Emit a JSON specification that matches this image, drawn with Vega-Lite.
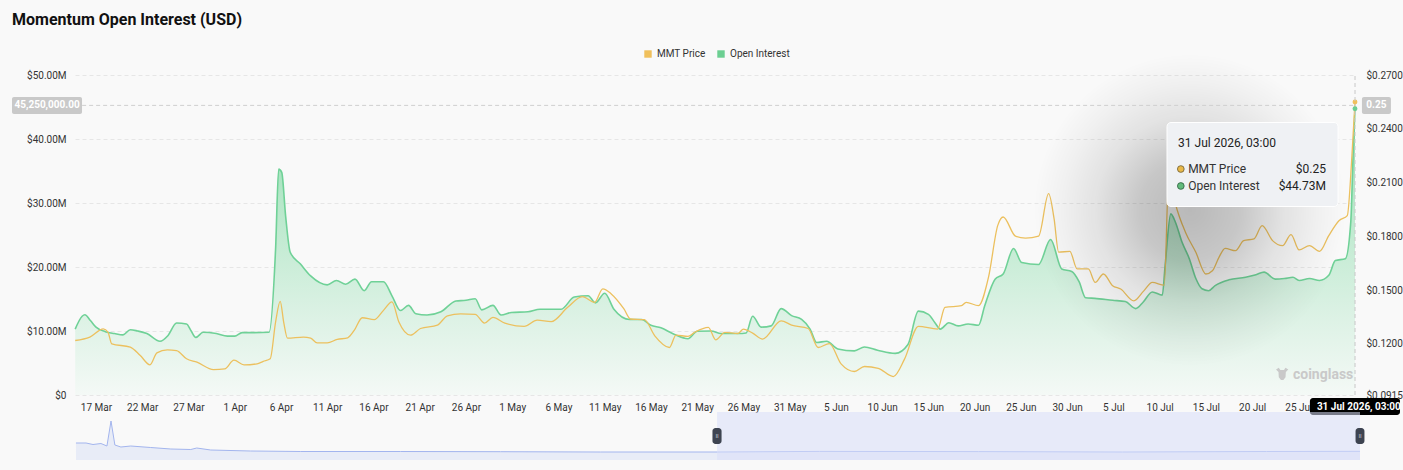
{
  "$schema": "https://vega.github.io/schema/vega-lite/v6.json",
  "width": 1280,
  "height": 320,
  "autosize": "none",
  "padding": {"left": 75, "top": 75, "right": 48, "bottom": 75},
  "background": "#f9f9f9",
  "title": {"text": "Momentum Open Interest (USD)", "anchor": "start", "frame": "group", "dx": -63, "offset": 12, "fontSize": 16, "fontWeight": "bold", "color": "#111111", "font": "Roboto"},
  "datasets": {
    "oi": [
      {"t": "2026-03-14T18:00", "oi": 10300000},
      {"t": "2026-03-15T12:00", "oi": 12300000},
      {"t": "2026-03-15T19:00", "oi": 12550000},
      {"t": "2026-03-16T10:00", "oi": 11600000},
      {"t": "2026-03-17T00:00", "oi": 10600000},
      {"t": "2026-03-18T00:00", "oi": 9900000},
      {"t": "2026-03-19T00:00", "oi": 9600000},
      {"t": "2026-03-19T22:00", "oi": 9400000},
      {"t": "2026-03-20T17:00", "oi": 10200000},
      {"t": "2026-03-21T12:00", "oi": 10000000},
      {"t": "2026-03-22T12:00", "oi": 9600000},
      {"t": "2026-03-23T22:00", "oi": 8400000},
      {"t": "2026-03-24T19:00", "oi": 9300000},
      {"t": "2026-03-25T17:00", "oi": 11250000},
      {"t": "2026-03-26T19:00", "oi": 11100000},
      {"t": "2026-03-27T07:00", "oi": 10000000},
      {"t": "2026-03-27T19:00", "oi": 9000000},
      {"t": "2026-03-28T14:00", "oi": 9800000},
      {"t": "2026-03-30T00:00", "oi": 9600000},
      {"t": "2026-03-31T05:00", "oi": 9200000},
      {"t": "2026-04-01T00:00", "oi": 9200000},
      {"t": "2026-04-01T19:00", "oi": 9740000},
      {"t": "2026-04-03T00:00", "oi": 9740000},
      {"t": "2026-04-04T17:00", "oi": 9800000},
      {"t": "2026-04-05T10:00", "oi": 22800000},
      {"t": "2026-04-05T18:00", "oi": 35300000},
      {"t": "2026-04-06T02:00", "oi": 34800000},
      {"t": "2026-04-06T12:00", "oi": 28000000},
      {"t": "2026-04-07T00:00", "oi": 22300000},
      {"t": "2026-04-08T02:00", "oi": 20500000},
      {"t": "2026-04-09T05:00", "oi": 18600000},
      {"t": "2026-04-11T00:00", "oi": 17200000},
      {"t": "2026-04-12T00:00", "oi": 17900000},
      {"t": "2026-04-13T00:00", "oi": 17300000},
      {"t": "2026-04-14T00:00", "oi": 18100000},
      {"t": "2026-04-15T00:00", "oi": 16300000},
      {"t": "2026-04-15T19:00", "oi": 17700000},
      {"t": "2026-04-17T02:00", "oi": 17700000},
      {"t": "2026-04-18T00:00", "oi": 15500000},
      {"t": "2026-04-18T22:00", "oi": 13200000},
      {"t": "2026-04-19T19:00", "oi": 14000000},
      {"t": "2026-04-20T14:00", "oi": 12700000},
      {"t": "2026-04-21T19:00", "oi": 12500000},
      {"t": "2026-04-23T07:00", "oi": 13000000},
      {"t": "2026-04-24T22:00", "oi": 14700000},
      {"t": "2026-04-26T00:00", "oi": 14800000},
      {"t": "2026-04-27T00:00", "oi": 15050000},
      {"t": "2026-04-27T17:00", "oi": 13300000},
      {"t": "2026-04-28T22:00", "oi": 14000000},
      {"t": "2026-04-29T19:00", "oi": 12500000},
      {"t": "2026-04-30T22:00", "oi": 12900000},
      {"t": "2026-05-02T17:00", "oi": 13000000},
      {"t": "2026-05-04T00:00", "oi": 13400000},
      {"t": "2026-05-06T07:00", "oi": 13400000},
      {"t": "2026-05-07T17:00", "oi": 15300000},
      {"t": "2026-05-09T05:00", "oi": 15500000},
      {"t": "2026-05-10T00:00", "oi": 14400000},
      {"t": "2026-05-11T00:00", "oi": 15900000},
      {"t": "2026-05-12T00:00", "oi": 13400000},
      {"t": "2026-05-13T17:00", "oi": 11800000},
      {"t": "2026-05-15T00:00", "oi": 11800000},
      {"t": "2026-05-16T00:00", "oi": 10900000},
      {"t": "2026-05-17T02:00", "oi": 10500000},
      {"t": "2026-05-18T12:00", "oi": 9500000},
      {"t": "2026-05-20T00:00", "oi": 8800000},
      {"t": "2026-05-21T00:00", "oi": 9950000},
      {"t": "2026-05-22T12:00", "oi": 10000000},
      {"t": "2026-05-23T14:00", "oi": 9600000},
      {"t": "2026-05-25T10:00", "oi": 9600000},
      {"t": "2026-05-26T07:00", "oi": 9700000},
      {"t": "2026-05-27T00:00", "oi": 12300000},
      {"t": "2026-05-27T22:00", "oi": 10600000},
      {"t": "2026-05-29T00:00", "oi": 10800000},
      {"t": "2026-05-30T02:00", "oi": 13500000},
      {"t": "2026-05-31T05:00", "oi": 12400000},
      {"t": "2026-06-01T07:00", "oi": 11800000},
      {"t": "2026-06-02T05:00", "oi": 10300000},
      {"t": "2026-06-02T22:00", "oi": 8200000},
      {"t": "2026-06-04T00:00", "oi": 8400000},
      {"t": "2026-06-05T05:00", "oi": 7200000},
      {"t": "2026-06-07T00:00", "oi": 6900000},
      {"t": "2026-06-08T02:00", "oi": 7500000},
      {"t": "2026-06-09T12:00", "oi": 7000000},
      {"t": "2026-06-11T10:00", "oi": 6500000},
      {"t": "2026-06-12T19:00", "oi": 7900000},
      {"t": "2026-06-13T22:00", "oi": 13100000},
      {"t": "2026-06-15T00:00", "oi": 12600000},
      {"t": "2026-06-15T17:00", "oi": 11300000},
      {"t": "2026-06-16T07:00", "oi": 10300000},
      {"t": "2026-06-17T05:00", "oi": 11300000},
      {"t": "2026-06-18T05:00", "oi": 10800000},
      {"t": "2026-06-19T07:00", "oi": 11100000},
      {"t": "2026-06-20T10:00", "oi": 10900000},
      {"t": "2026-06-21T02:00", "oi": 13900000},
      {"t": "2026-06-22T05:00", "oi": 18100000},
      {"t": "2026-06-23T02:00", "oi": 18900000},
      {"t": "2026-06-24T05:00", "oi": 22900000},
      {"t": "2026-06-25T02:00", "oi": 20700000},
      {"t": "2026-06-26T22:00", "oi": 20400000},
      {"t": "2026-06-28T05:00", "oi": 24300000},
      {"t": "2026-06-29T10:00", "oi": 19700000},
      {"t": "2026-06-30T12:00", "oi": 19300000},
      {"t": "2026-07-01T07:00", "oi": 17700000},
      {"t": "2026-07-02T00:00", "oi": 15200000},
      {"t": "2026-07-03T00:00", "oi": 15100000},
      {"t": "2026-07-04T22:00", "oi": 14800000},
      {"t": "2026-07-06T07:00", "oi": 14600000},
      {"t": "2026-07-07T10:00", "oi": 13500000},
      {"t": "2026-07-08T05:00", "oi": 14500000},
      {"t": "2026-07-09T05:00", "oi": 16100000},
      {"t": "2026-07-10T07:00", "oi": 15600000},
      {"t": "2026-07-10T14:00", "oi": 20000000},
      {"t": "2026-07-11T05:00", "oi": 28300000},
      {"t": "2026-07-11T17:00", "oi": 27000000},
      {"t": "2026-07-12T10:00", "oi": 23900000},
      {"t": "2026-07-13T05:00", "oi": 21300000},
      {"t": "2026-07-13T22:00", "oi": 18200000},
      {"t": "2026-07-14T14:00", "oi": 16600000},
      {"t": "2026-07-15T07:00", "oi": 16300000},
      {"t": "2026-07-16T00:00", "oi": 17100000},
      {"t": "2026-07-17T12:00", "oi": 18000000},
      {"t": "2026-07-19T07:00", "oi": 18400000},
      {"t": "2026-07-20T10:00", "oi": 18800000},
      {"t": "2026-07-21T07:00", "oi": 19200000},
      {"t": "2026-07-22T12:00", "oi": 18100000},
      {"t": "2026-07-23T12:00", "oi": 18200000},
      {"t": "2026-07-24T10:00", "oi": 18400000},
      {"t": "2026-07-25T02:00", "oi": 17900000},
      {"t": "2026-07-26T05:00", "oi": 18200000},
      {"t": "2026-07-27T07:00", "oi": 17900000},
      {"t": "2026-07-28T07:00", "oi": 18700000},
      {"t": "2026-07-29T00:00", "oi": 21000000},
      {"t": "2026-07-30T02:00", "oi": 21300000},
      {"t": "2026-07-30T16:00", "oi": 27000000},
      {"t": "2026-07-30T22:00", "oi": 37400000},
      {"t": "2026-07-31T03:00", "oi": 44730000}
    ],
    "price": [
      {"t": "2026-03-14T18:00", "price": 0.1219},
      {"t": "2026-03-16T08:00", "price": 0.1238},
      {"t": "2026-03-17T19:00", "price": 0.1284},
      {"t": "2026-03-18T07:00", "price": 0.1266},
      {"t": "2026-03-18T17:00", "price": 0.1200},
      {"t": "2026-03-20T17:00", "price": 0.1182},
      {"t": "2026-03-21T19:00", "price": 0.1135},
      {"t": "2026-03-22T20:00", "price": 0.1083},
      {"t": "2026-03-23T14:00", "price": 0.1150},
      {"t": "2026-03-24T17:00", "price": 0.1167},
      {"t": "2026-03-25T17:00", "price": 0.1163},
      {"t": "2026-03-26T19:00", "price": 0.1117},
      {"t": "2026-03-27T22:00", "price": 0.1098},
      {"t": "2026-03-29T17:00", "price": 0.1057},
      {"t": "2026-03-30T22:00", "price": 0.1061},
      {"t": "2026-03-31T22:00", "price": 0.1109},
      {"t": "2026-04-02T00:00", "price": 0.1083},
      {"t": "2026-04-03T10:00", "price": 0.1089},
      {"t": "2026-04-04T02:00", "price": 0.1103},
      {"t": "2026-04-04T20:00", "price": 0.1117},
      {"t": "2026-04-05T10:00", "price": 0.1322},
      {"t": "2026-04-05T22:00", "price": 0.1437},
      {"t": "2026-04-06T07:00", "price": 0.1322},
      {"t": "2026-04-06T17:00", "price": 0.1232},
      {"t": "2026-04-08T10:00", "price": 0.1238},
      {"t": "2026-04-09T05:00", "price": 0.1232},
      {"t": "2026-04-09T22:00", "price": 0.1206},
      {"t": "2026-04-11T00:00", "price": 0.1206},
      {"t": "2026-04-12T02:00", "price": 0.1225},
      {"t": "2026-04-13T05:00", "price": 0.1234},
      {"t": "2026-04-13T22:00", "price": 0.1275},
      {"t": "2026-04-14T19:00", "price": 0.1346},
      {"t": "2026-04-16T02:00", "price": 0.1335},
      {"t": "2026-04-17T02:00", "price": 0.1387},
      {"t": "2026-04-18T00:00", "price": 0.1434},
      {"t": "2026-04-18T18:00", "price": 0.1322},
      {"t": "2026-04-20T00:00", "price": 0.1249},
      {"t": "2026-04-21T02:00", "price": 0.1286},
      {"t": "2026-04-22T22:00", "price": 0.1305},
      {"t": "2026-04-24T00:00", "price": 0.1357},
      {"t": "2026-04-25T10:00", "price": 0.1367},
      {"t": "2026-04-27T00:00", "price": 0.1365},
      {"t": "2026-04-28T00:00", "price": 0.1316},
      {"t": "2026-04-28T22:00", "price": 0.1348},
      {"t": "2026-04-30T05:00", "price": 0.1316},
      {"t": "2026-05-02T07:00", "price": 0.1298},
      {"t": "2026-05-03T17:00", "price": 0.1333},
      {"t": "2026-05-05T05:00", "price": 0.1324},
      {"t": "2026-05-07T00:00", "price": 0.1404},
      {"t": "2026-05-08T14:00", "price": 0.1464},
      {"t": "2026-05-09T22:00", "price": 0.1432},
      {"t": "2026-05-10T19:00", "price": 0.1507},
      {"t": "2026-05-11T17:00", "price": 0.1479},
      {"t": "2026-05-13T02:00", "price": 0.1395},
      {"t": "2026-05-13T19:00", "price": 0.1339},
      {"t": "2026-05-15T07:00", "price": 0.1335},
      {"t": "2026-05-16T10:00", "price": 0.1245},
      {"t": "2026-05-18T00:00", "price": 0.1180},
      {"t": "2026-05-18T17:00", "price": 0.1249},
      {"t": "2026-05-20T00:00", "price": 0.1242},
      {"t": "2026-05-20T17:00", "price": 0.1264},
      {"t": "2026-05-22T05:00", "price": 0.1292},
      {"t": "2026-05-23T00:00", "price": 0.1223},
      {"t": "2026-05-24T00:00", "price": 0.1264},
      {"t": "2026-05-25T10:00", "price": 0.1258},
      {"t": "2026-05-26T00:00", "price": 0.1283},
      {"t": "2026-05-27T00:00", "price": 0.1260},
      {"t": "2026-05-28T02:00", "price": 0.1227},
      {"t": "2026-05-30T02:00", "price": 0.1329},
      {"t": "2026-05-31T05:00", "price": 0.1305},
      {"t": "2026-06-02T00:00", "price": 0.1286},
      {"t": "2026-06-03T02:00", "price": 0.1180},
      {"t": "2026-06-04T07:00", "price": 0.1202},
      {"t": "2026-06-05T14:00", "price": 0.1087},
      {"t": "2026-06-07T00:00", "price": 0.1046},
      {"t": "2026-06-08T02:00", "price": 0.1074},
      {"t": "2026-06-09T14:00", "price": 0.1064},
      {"t": "2026-06-11T05:00", "price": 0.1018},
      {"t": "2026-06-12T10:00", "price": 0.1115},
      {"t": "2026-06-13T22:00", "price": 0.1298},
      {"t": "2026-06-16T00:00", "price": 0.1283},
      {"t": "2026-06-16T19:00", "price": 0.1404},
      {"t": "2026-06-18T14:00", "price": 0.1413},
      {"t": "2026-06-19T02:00", "price": 0.1432},
      {"t": "2026-06-20T10:00", "price": 0.1413},
      {"t": "2026-06-21T12:00", "price": 0.1572},
      {"t": "2026-06-22T12:00", "price": 0.1861},
      {"t": "2026-06-23T02:00", "price": 0.1908},
      {"t": "2026-06-24T10:00", "price": 0.1801},
      {"t": "2026-06-25T12:00", "price": 0.1790},
      {"t": "2026-06-26T22:00", "price": 0.1801},
      {"t": "2026-06-28T00:00", "price": 0.2038},
      {"t": "2026-06-28T14:00", "price": 0.1900},
      {"t": "2026-06-29T02:00", "price": 0.1712},
      {"t": "2026-06-30T07:00", "price": 0.1716},
      {"t": "2026-07-01T02:00", "price": 0.1618},
      {"t": "2026-07-02T07:00", "price": 0.1618},
      {"t": "2026-07-03T01:00", "price": 0.1543},
      {"t": "2026-07-03T22:00", "price": 0.1590},
      {"t": "2026-07-04T22:00", "price": 0.1525},
      {"t": "2026-07-05T19:00", "price": 0.1506},
      {"t": "2026-07-07T05:00", "price": 0.1440},
      {"t": "2026-07-08T07:00", "price": 0.1496},
      {"t": "2026-07-09T05:00", "price": 0.1543},
      {"t": "2026-07-10T12:00", "price": 0.1528},
      {"t": "2026-07-11T00:00", "price": 0.2150},
      {"t": "2026-07-11T17:00", "price": 0.1982},
      {"t": "2026-07-12T19:00", "price": 0.1823},
      {"t": "2026-07-13T22:00", "price": 0.1711},
      {"t": "2026-07-15T00:00", "price": 0.1590},
      {"t": "2026-07-15T17:00", "price": 0.1608},
      {"t": "2026-07-16T10:00", "price": 0.1683},
      {"t": "2026-07-17T02:00", "price": 0.1733},
      {"t": "2026-07-18T05:00", "price": 0.1720},
      {"t": "2026-07-19T02:00", "price": 0.1776},
      {"t": "2026-07-20T05:00", "price": 0.1786},
      {"t": "2026-07-21T02:00", "price": 0.1860},
      {"t": "2026-07-22T05:00", "price": 0.1776},
      {"t": "2026-07-23T07:00", "price": 0.1748},
      {"t": "2026-07-24T05:00", "price": 0.1810},
      {"t": "2026-07-25T02:00", "price": 0.1724},
      {"t": "2026-07-26T05:00", "price": 0.1748},
      {"t": "2026-07-27T07:00", "price": 0.1716},
      {"t": "2026-07-28T07:00", "price": 0.1804},
      {"t": "2026-07-29T10:00", "price": 0.1888},
      {"t": "2026-07-30T07:00", "price": 0.1916},
      {"t": "2026-07-30T19:00", "price": 0.2250},
      {"t": "2026-07-31T03:00", "price": 0.2549}
    ],
    "hover": [
      {"t": "2026-07-31T03:00", "price": 0.2549, "oi": 44730000}
    ],
    "overview": [
      {"t": "2025-10-27T18:00", "level": 17},
      {"t": "2025-10-29T22:00", "level": 17},
      {"t": "2025-10-31T10:00", "level": 15.5},
      {"t": "2025-11-02T03:00", "level": 16.5},
      {"t": "2025-11-03T10:00", "level": 14},
      {"t": "2025-11-04T07:00", "level": 39},
      {"t": "2025-11-05T03:00", "level": 15},
      {"t": "2025-11-06T10:00", "level": 13},
      {"t": "2025-11-08T13:00", "level": 14},
      {"t": "2025-11-12T20:00", "level": 12.5},
      {"t": "2025-11-17T04:00", "level": 11},
      {"t": "2025-11-21T11:00", "level": 10.5},
      {"t": "2025-11-22T18:00", "level": 12},
      {"t": "2025-11-25T18:00", "level": 10},
      {"t": "2025-12-04T08:00", "level": 9},
      {"t": "2025-12-15T03:00", "level": 8.5},
      {"t": "2026-01-05T15:00", "level": 8.5},
      {"t": "2026-01-27T03:00", "level": 8.3},
      {"t": "2026-02-17T15:00", "level": 8},
      {"t": "2026-03-14T18:00", "level": 8},
      {"t": "2026-04-05T18:00", "level": 8.6},
      {"t": "2026-05-10T00:00", "level": 8.4},
      {"t": "2026-06-10T00:00", "level": 8},
      {"t": "2026-07-11T00:00", "level": 8.5},
      {"t": "2026-07-31T03:00", "level": 8.7}
    ]
  },
  "layer": [
    {
      "resolve": {"scale": {"y": "independent"}},
      "layer": [
        {
          "data": {"name": "oi"},
          "layer": [
            {
              "mark": {"type": "area", "interpolate": "monotone", "color": {"gradient": "linear", "x1": 0, "y1": 0, "x2": 0, "y2": 1, "stops": [{"offset": 0, "color": "#86d9a8"}, {"offset": 0.3, "color": "#b4e7c8"}, {"offset": 0.7, "color": "#daf1e3"}, {"offset": 1, "color": "#f4f9f6"}]}},
              "encoding": {
                "x": {"field": "t", "type": "temporal", "title": null,
                  "scale": {"domain": [{"year": 2026, "month": 3, "date": 14, "hours": 17, "minutes": 30}, {"year": 2026, "month": 7, "date": 31, "hours": 3}], "nice": false},
                  "axis": {"format": "%-d %b", "labelPadding": 7, "labelFlush": false, "labelOverlap": false, "domain": false, "ticks": false, "grid": false,
                    "values": [
                      {"year": 2026, "month": 3, "date": 17}, {"year": 2026, "month": 3, "date": 22}, {"year": 2026, "month": 3, "date": 27},
                      {"year": 2026, "month": 4, "date": 1}, {"year": 2026, "month": 4, "date": 6}, {"year": 2026, "month": 4, "date": 11},
                      {"year": 2026, "month": 4, "date": 16}, {"year": 2026, "month": 4, "date": 21}, {"year": 2026, "month": 4, "date": 26},
                      {"year": 2026, "month": 5, "date": 1}, {"year": 2026, "month": 5, "date": 6}, {"year": 2026, "month": 5, "date": 11},
                      {"year": 2026, "month": 5, "date": 16}, {"year": 2026, "month": 5, "date": 21}, {"year": 2026, "month": 5, "date": 26},
                      {"year": 2026, "month": 5, "date": 31}, {"year": 2026, "month": 6, "date": 5}, {"year": 2026, "month": 6, "date": 10},
                      {"year": 2026, "month": 6, "date": 15}, {"year": 2026, "month": 6, "date": 20}, {"year": 2026, "month": 6, "date": 25},
                      {"year": 2026, "month": 6, "date": 30}, {"year": 2026, "month": 7, "date": 5}, {"year": 2026, "month": 7, "date": 10},
                      {"year": 2026, "month": 7, "date": 15}, {"year": 2026, "month": 7, "date": 20}, {"year": 2026, "month": 7, "date": 25}
                    ]}},
                "y": {"field": "oi", "type": "quantitative", "title": null,
                  "scale": {"domain": [0, 50000000], "nice": false},
                  "axis": {"orient": "left", "values": [0, 10000000, 20000000, 30000000, 40000000, 50000000],
                    "labelExpr": "datum.value == 0 ? '$0' : '$' + format(datum.value / 1000000, '.2f') + 'M'",
                    "labelPadding": 9, "domain": false, "ticks": false, "grid": true, "gridDash": [4, 3], "gridColor": "#e6e6e6"}}
              }
            },
            {
              "mark": {"type": "line", "interpolate": "monotone", "color": "#6fd197", "strokeWidth": 1.6},
              "encoding": {
                "x": {"field": "t", "type": "temporal", "title": null},
                "y": {"field": "oi", "type": "quantitative", "title": null}
              }
            }
          ]
        },
        {
          "layer": [
            {
              "data": {"name": "price"},
              "mark": {"type": "line", "interpolate": "monotone", "color": "#ecc05e", "strokeWidth": 1.3},
              "encoding": {
                "x": {"field": "t", "type": "temporal", "title": null},
                "y": {"field": "price", "type": "quantitative", "title": null,
                  "scale": {"domain": [0.0915, 0.27], "nice": false, "zero": false},
                  "axis": {"orient": "right", "values": [0.0915, 0.12, 0.15, 0.18, 0.21, 0.24, 0.27], "format": "$.4f", "labelPadding": 11, "domain": false, "ticks": false, "grid": false}}
              }
            },
            {
              "data": {"name": "hover"},
              "mark": {"type": "point", "filled": true, "size": 24, "opacity": 1},
              "encoding": {
                "x": {"field": "t", "type": "temporal", "title": null},
                "y": {"field": "price", "type": "quantitative", "title": null},
                "color": {"datum": "MMT Price", "type": "nominal",
                  "scale": {"domain": ["MMT Price", "Open Interest"], "range": ["#f0c05c", "#6ccf92"]},
                  "legend": {"orient": "none", "legendX": 568, "legendY": -26, "direction": "horizontal", "title": null, "symbolType": "square", "symbolSize": 55, "symbolStrokeWidth": 0, "labelFontSize": 10, "labelColor": "#333333", "labelOffset": 4, "columnPadding": 10}}
              }
            }
          ]
        },
        {
          "data": {"name": "hover"},
          "layer": [
            {
              "mark": {"type": "rect", "fill": {"gradient": "radial", "x1": 0.5, "y1": 0.5, "r1": 0, "x2": 0.5, "y2": 0.5, "r2": 0.5, "stops": [{"offset": 0, "color": "rgba(0,0,0,0.26)"}, {"offset": 0.3, "color": "rgba(0,0,0,0.2)"}, {"offset": 0.55, "color": "rgba(0,0,0,0.09)"}, {"offset": 0.75, "color": "rgba(0,0,0,0.035)"}, {"offset": 0.92, "color": "rgba(0,0,0,0)"}, {"offset": 1, "color": "rgba(0,0,0,0)"}]}},
              "encoding": {
                "x": {"datum": {"year": 2026, "month": 6, "date": 24, "hours": 21, "minutes": 40}, "type": "temporal", "title": null},
                "x2": {"datum": {"year": 2026, "month": 7, "date": 31, "hours": 16}},
                "y": {"datum": 55470000, "type": "quantitative", "title": null, "scale": {"domain": [0, 50000000], "nice": false}, "axis": null},
                "y2": {"datum": 2340000}
              }
            },
            {
              "mark": {"type": "rule", "color": "#cfcfcf", "strokeWidth": 1, "strokeDash": [4, 3]},
              "encoding": {
                "x": {"datum": {"year": 2026, "month": 3, "date": 15, "hours": 12}, "type": "temporal", "title": null},
                "x2": {"datum": {"year": 2026, "month": 7, "date": 31, "hours": 3}},
                "y": {"datum": 45250000, "type": "quantitative", "title": null, "axis": null}
              }
            },
            {
              "mark": {"type": "rule", "color": "#c8c8c8", "strokeWidth": 1, "strokeDash": [4, 3]},
              "encoding": {
                "x": {"field": "t", "type": "temporal", "title": null},
                "y": {"datum": 0, "type": "quantitative", "title": null, "axis": null},
                "y2": {"datum": 50000000}
              }
            },
            {
              "mark": {"type": "rect", "color": "#c9c9c9", "cornerRadius": 2},
              "encoding": {
                "x": {"datum": {"year": 2026, "month": 3, "date": 7, "hours": 22}, "type": "temporal", "title": null},
                "x2": {"datum": {"year": 2026, "month": 3, "date": 15, "hours": 11, "minutes": 45}},
                "y": {"datum": 46560000, "type": "quantitative", "title": null, "axis": null},
                "y2": {"datum": 43910000}
              }
            },
            {
              "mark": {"type": "text", "text": "45,250,000.00", "align": "center", "baseline": "middle", "fontSize": 10, "fontWeight": "bold", "color": "#ffffff"},
              "encoding": {
                "x": {"datum": {"year": 2026, "month": 3, "date": 11, "hours": 17}, "type": "temporal", "title": null},
                "y": {"datum": 45250000, "type": "quantitative", "title": null, "axis": null}
              }
            },
            {
              "mark": {"type": "rect", "color": "#c9c9c9", "cornerRadius": 2},
              "encoding": {
                "x": {"datum": {"year": 2026, "month": 7, "date": 31, "hours": 21}, "type": "temporal", "title": null},
                "x2": {"datum": {"year": 2026, "month": 8, "date": 4, "hours": 0, "minutes": 15}},
                "y": {"datum": 46560000, "type": "quantitative", "title": null, "axis": null},
                "y2": {"datum": 43910000}
              }
            },
            {
              "mark": {"type": "text", "text": "0.25", "align": "center", "baseline": "middle", "fontSize": 10, "fontWeight": "bold", "color": "#ffffff"},
              "encoding": {
                "x": {"datum": {"year": 2026, "month": 8, "date": 2, "hours": 10, "minutes": 30}, "type": "temporal", "title": null},
                "y": {"datum": 45250000, "type": "quantitative", "title": null, "axis": null}
              }
            },
            {
              "mark": {"type": "point", "filled": true, "size": 24, "opacity": 1},
              "encoding": {
                "x": {"field": "t", "type": "temporal", "title": null},
                "y": {"field": "oi", "type": "quantitative", "title": null, "axis": null},
                "color": {"datum": "Open Interest", "type": "nominal"}
              }
            },
            {
              "mark": {"type": "rect", "color": "#eff1f4", "stroke": "#ffffff", "strokeWidth": 1, "cornerRadius": 4},
              "encoding": {
                "x": {"datum": {"year": 2026, "month": 7, "date": 10, "hours": 19, "minutes": 10}, "type": "temporal", "title": null},
                "x2": {"datum": {"year": 2026, "month": 7, "date": 29, "hours": 7}},
                "y": {"datum": 42580000, "type": "quantitative", "title": null, "axis": null},
                "y2": {"datum": 29450000}
              }
            },
            {
              "mark": {"type": "text", "align": "left", "baseline": "middle", "fontSize": 12, "color": "#222222"},
              "encoding": {
                "x": {"datum": {"year": 2026, "month": 7, "date": 12, "hours": 0}, "type": "temporal", "title": null},
                "y": {"datum": 39375000, "type": "quantitative", "title": null, "axis": null},
                "text": {"field": "t", "type": "temporal", "format": "%-d %b %Y, %H:%M"}
              }
            },
            {
              "mark": {"type": "point", "filled": true, "size": 45, "color": "#e9b949", "stroke": "#6b5a2e", "strokeWidth": 0.8, "opacity": 1},
              "encoding": {
                "x": {"datum": {"year": 2026, "month": 7, "date": 12, "hours": 7}, "type": "temporal", "title": null},
                "y": {"datum": 35310000, "type": "quantitative", "title": null, "axis": null}
              }
            },
            {
              "mark": {"type": "point", "filled": true, "size": 45, "color": "#62bb7c", "stroke": "#2f5e3d", "strokeWidth": 0.8, "opacity": 1},
              "encoding": {
                "x": {"datum": {"year": 2026, "month": 7, "date": 12, "hours": 7}, "type": "temporal", "title": null},
                "y": {"datum": 32660000, "type": "quantitative", "title": null, "axis": null}
              }
            },
            {
              "mark": {"type": "text", "text": "MMT Price", "align": "left", "baseline": "middle", "fontSize": 12, "color": "#333333"},
              "encoding": {
                "x": {"datum": {"year": 2026, "month": 7, "date": 13, "hours": 2}, "type": "temporal", "title": null},
                "y": {"datum": 35310000, "type": "quantitative", "title": null, "axis": null}
              }
            },
            {
              "mark": {"type": "text", "text": "Open Interest", "align": "left", "baseline": "middle", "fontSize": 12, "color": "#333333"},
              "encoding": {
                "x": {"datum": {"year": 2026, "month": 7, "date": 13, "hours": 2}, "type": "temporal", "title": null},
                "y": {"datum": 32660000, "type": "quantitative", "title": null, "axis": null}
              }
            },
            {
              "mark": {"type": "text", "align": "right", "baseline": "middle", "fontSize": 12, "color": "#222222"},
              "encoding": {
                "x": {"datum": {"year": 2026, "month": 7, "date": 27, "hours": 23, "minutes": 45}, "type": "temporal", "title": null},
                "y": {"datum": 35310000, "type": "quantitative", "title": null, "axis": null},
                "text": {"field": "price", "type": "quantitative", "format": "$.2f"}
              }
            },
            {
              "mark": {"type": "text", "align": "right", "baseline": "middle", "fontSize": 12, "color": "#222222"},
              "encoding": {
                "x": {"datum": {"year": 2026, "month": 7, "date": 27, "hours": 23, "minutes": 45}, "type": "temporal", "title": null},
                "y": {"datum": 32660000, "type": "quantitative", "title": null, "axis": null},
                "text": {"field": "oi", "type": "quantitative", "format": "$.4s"}
              }
            },
            {
              "mark": {"type": "rect", "color": "#000000", "cornerRadius": 3},
              "encoding": {
                "x": {"datum": {"year": 2026, "month": 7, "date": 26, "hours": 6}, "type": "temporal", "title": null},
                "x2": {"datum": {"year": 2026, "month": 8, "date": 4, "hours": 23, "minutes": 45}},
                "y": {"datum": -470000, "type": "quantitative", "title": null, "axis": null},
                "y2": {"datum": -3125000}
              }
            },
            {
              "mark": {"type": "text", "align": "center", "baseline": "middle", "fontSize": 10, "fontWeight": "bold", "color": "#ffffff"},
              "encoding": {
                "x": {"datum": {"year": 2026, "month": 7, "date": 31, "hours": 13}, "type": "temporal", "title": null},
                "y": {"datum": -1800000, "type": "quantitative", "title": null, "axis": null},
                "text": {"field": "t", "type": "temporal", "format": "%-d %b %Y, %H:%M"}
              }
            },
            {
              "mark": {"type": "text", "text": "coinglass", "align": "left", "baseline": "middle", "fontSize": 14, "fontWeight": "bold", "color": "#c9c9c9"},
              "encoding": {
                "x": {"datum": {"year": 2026, "month": 7, "date": 24, "hours": 10}, "type": "temporal", "title": null},
                "y": {"datum": 3125000, "type": "quantitative", "title": null, "axis": null}
              }
            },
            {
              "mark": {"type": "point", "filled": true, "size": 150, "color": "#c9c9c9", "opacity": 1,
                "shape": "M-1,-0.7 L-0.55,-1 L-0.3,-0.65 L0.3,-0.65 L0.55,-1 L1,-0.7 L0.6,-0.3 L0.55,0.55 L0.2,1 L-0.2,1 L-0.55,0.55 L-0.6,-0.3 Z"},
              "encoding": {
                "x": {"datum": {"year": 2026, "month": 7, "date": 23, "hours": 6}, "type": "temporal", "title": null},
                "y": {"datum": 3300000, "type": "quantitative", "title": null, "axis": null}
              }
            }
          ]
        }
      ]
    },
    {
      "layer": [
        {
          "data": {"name": "overview"},
          "mark": {"type": "area", "color": "#e1e7f6", "line": {"color": "#a3b5ee", "strokeWidth": 1}},
          "encoding": {
            "x": {"field": "t", "type": "temporal", "title": null, "axis": null,
              "scale": {"domain": [{"year": 2025, "month": 10, "date": 27, "hours": 13}, {"year": 2026, "month": 7, "date": 30, "hours": 1, "minutes": 10}], "nice": false}},
            "y": {"field": "level", "type": "quantitative", "title": null, "axis": null, "scale": {"domain": [65, 385], "nice": false, "zero": false}},
            "y2": {"datum": 0}
          }
        },
        {
          "data": {"name": "hover"},
          "mark": {"type": "rect", "color": "#d9def9", "opacity": 0.55},
          "encoding": {
            "x": {"datum": {"year": 2026, "month": 3, "date": 14, "hours": 17, "minutes": 30}, "type": "temporal", "title": null},
            "x2": {"datum": {"year": 2026, "month": 7, "date": 31, "hours": 3}},
            "y": {"datum": 0, "type": "quantitative", "title": null},
            "y2": {"datum": 48}
          }
        },
        {
          "data": {"name": "hover"},
          "mark": {"type": "rect", "color": "#3e4451", "cornerRadius": 3},
          "encoding": {
            "x": {"datum": {"year": 2026, "month": 3, "date": 13, "hours": 18}, "type": "temporal", "title": null},
            "x2": {"datum": {"year": 2026, "month": 3, "date": 15, "hours": 17}},
            "y": {"datum": 16, "type": "quantitative", "title": null},
            "y2": {"datum": 32}
          }
        },
        {
          "data": {"name": "hover"},
          "mark": {"type": "rect", "color": "#3e4451", "cornerRadius": 3},
          "encoding": {
            "x": {"datum": {"year": 2026, "month": 7, "date": 30, "hours": 4}, "type": "temporal", "title": null},
            "x2": {"datum": {"year": 2026, "month": 8, "date": 1, "hours": 2}},
            "y": {"datum": 16, "type": "quantitative", "title": null},
            "y2": {"datum": 32}
          }
        },
        {
          "data": {"name": "hover"},
          "mark": {"type": "text", "text": "II", "align": "center", "baseline": "middle", "fontSize": 6, "color": "#c3c7d1"},
          "encoding": {
            "x": {"datum": {"year": 2026, "month": 3, "date": 14, "hours": 17, "minutes": 30}, "type": "temporal", "title": null},
            "y": {"datum": 24, "type": "quantitative", "title": null}
          }
        },
        {
          "data": {"name": "hover"},
          "mark": {"type": "text", "text": "II", "align": "center", "baseline": "middle", "fontSize": 6, "color": "#c3c7d1"},
          "encoding": {
            "x": {"datum": {"year": 2026, "month": 7, "date": 31, "hours": 3}, "type": "temporal", "title": null},
            "y": {"datum": 24, "type": "quantitative", "title": null}
          }
        }
      ]
    }
  ],
  "resolve": {"scale": {"x": "independent", "y": "independent"}},
  "config": {
    "font": "Roboto",
    "view": {"stroke": null},
    "axis": {"labelFont": "Roboto", "labelFontSize": 10, "labelColor": "#333333"},
    "legend": {"labelFont": "Roboto"},
    "text": {"font": "Roboto"}
  }
}
